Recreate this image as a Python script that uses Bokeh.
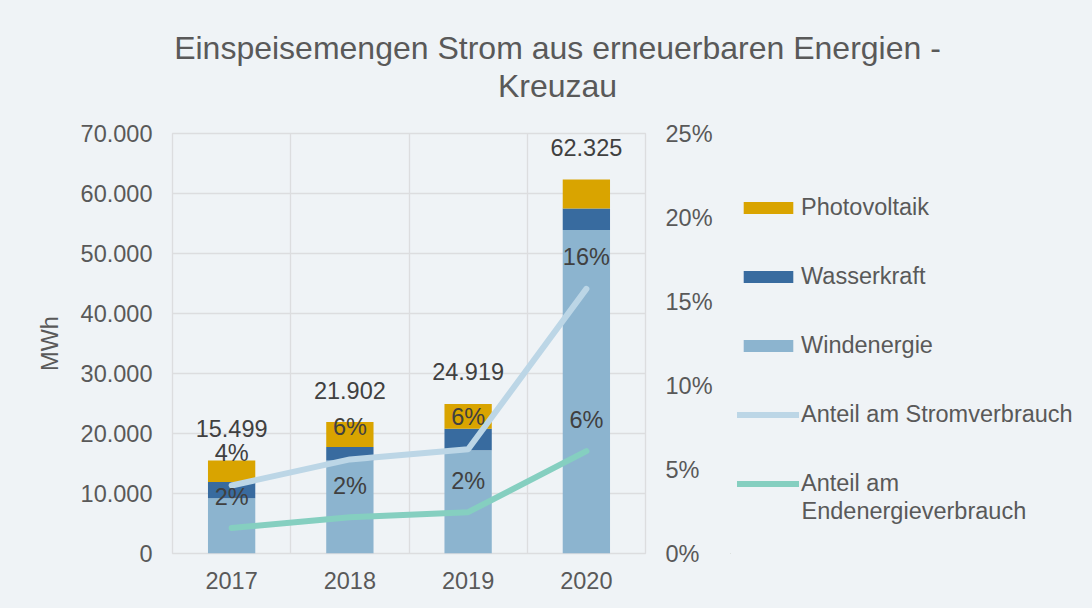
from bokeh.plotting import figure
from bokeh.layouts import column, row
from bokeh.models import (ColumnDataSource, Range1d, LinearAxis, FixedTicker, Legend,
                          LegendItem)
from bokeh.core.properties import value
from bokeh.embed import file_html
from bokeh.resources import INLINE

# ---------------- data ----------------
years = ["2017", "2018", "2019", "2020"]
windenergie = [9200, 15500, 17200, 53900]
wasserkraft = [2700, 2250, 3600, 3600]
photovoltaik = [3599, 4152, 4119, 4825]
totals = [15499, 21902, 24919, 62325]
total_labels = ["15.499", "21.902", "24.919", "62.325"]
anteil_strom = [0.0405, 0.056, 0.062, 0.1575]
anteil_end = [0.0152, 0.0216, 0.0246, 0.0609]
strom_labels = ["4%", "6%", "6%", "16%"]
end_labels = ["2%", "2%", "2%", "6%"]
left_ticks = [0, 10000, 20000, 30000, 40000, 50000, 60000, 70000]
left_tick_labels = ["0", "10.000", "20.000", "30.000", "40.000", "50.000", "60.000", "70.000"]
right_ticks = [0.0, 0.05, 0.10, 0.15, 0.20, 0.25]
right_tick_labels = ["0%", "5%", "10%", "15%", "20%", "25%"]
series_names = ["Photovoltaik", "Wasserkraft", "Windenergie",
                "Anteil am Stromverbrauch", "Anteil am", "Endenergieverbrauch"]

title_line1 = "Einspeisemengen Strom aus erneuerbaren Energien -"
title_line2 = "Kreuzau"

# ---------------- styles ----------------
BG = "#EFF3F6"
GRID = "#DCDDDF"
C_PV = "#D9A400"
C_WASSER = "#386B9F"
C_WIND = "#8CB4CF"
C_STROM = "#BCD6E6"
C_END = "#85CFC0"
TXT = "#595959"
LBL = "#404040"
FONT = "Liberation Sans"
FS = "23.5px"

# page geometry of the plot frame
TH = 110                 # height of title strip
FT, FB = 133, 553        # frame top / bottom (page px)
FL, FR = 172, 645        # frame left / right (page px)
MW = 730                 # width of the main chart figure
MH = 608 - TH
BT = FT - TH             # top border of the lower figures
BB = MH - BT - (FB - FT) # bottom border of the lower figures


def blank_fig(w, h, yr, **kw):
    fig = figure(width=w, height=h, output_backend="svg", toolbar_location=None,
                 x_range=Range1d(0, w), y_range=Range1d(0, yr),
                 x_axis_location=None, y_axis_location=None, **kw)
    fig.grid.visible = False
    fig.background_fill_color = BG
    fig.border_fill_color = BG
    fig.outline_line_color = None
    return fig


# ---------------- title figure ----------------
tf = blank_fig(1092, TH, TH, min_border=0)
tf.text(x=[557, 557], y=[TH - 47, TH - 85], text=[title_line1, title_line2],
        text_align="center", text_baseline="middle", text_font=value(FONT),
        text_font_size="32px", text_color=TXT)

# ---------------- main chart ----------------
xpos = [i + 0.5 for i in range(len(years))]
src = ColumnDataSource(dict(x=xpos, wind=windenergie, wasser=wasserkraft, pv=photovoltaik,
                            total=totals, total_label=total_labels,
                            strom=anteil_strom, end=anteil_end,
                            strom_label=strom_labels, end_label=end_labels))

p = figure(width=MW, height=MH, output_backend="svg", toolbar_location=None,
           x_range=Range1d(0, 4), y_range=Range1d(0, 70000),
           min_border_left=FL, min_border_right=MW - FR,
           min_border_top=BT, min_border_bottom=BB)
p.background_fill_color = BG
p.border_fill_color = BG
p.outline_line_color = GRID
p.outline_line_width = 1.3
p.extra_y_ranges = {"pct": Range1d(0, 0.25)}

p.xaxis.ticker = FixedTicker(ticks=xpos)
p.xaxis.major_label_overrides = {xv: y for xv, y in zip(xpos, years)}
p.yaxis.ticker = FixedTicker(ticks=left_ticks)
p.yaxis.major_label_overrides = {t: l for t, l in zip(left_ticks, left_tick_labels)}
p.yaxis.axis_label = "MWh"

ax_r = LinearAxis(y_range_name="pct", ticker=FixedTicker(ticks=right_ticks),
                  major_label_overrides={t: l for t, l in zip(right_ticks, right_tick_labels)})
p.add_layout(ax_r, "right")

for ax in [p.xaxis[0], p.yaxis[0], ax_r]:
    ax.axis_line_color = None
    ax.major_tick_line_color = None
    ax.minor_tick_line_color = None
    ax.major_tick_out = 0
    ax.major_tick_in = 0
    ax.major_label_text_font = FONT
    ax.major_label_text_font_size = FS
    ax.major_label_text_color = TXT
    ax.major_label_standoff = 20
p.xaxis.major_label_standoff = 18
p.yaxis.axis_label_text_font = FONT
p.yaxis.axis_label_text_font_size = FS
p.yaxis.axis_label_text_font_style = "normal"
p.yaxis.axis_label_text_color = TXT
p.yaxis.axis_label_standoff = 15

p.xgrid.ticker = FixedTicker(ticks=[0, 1, 2, 3, 4])
p.ygrid.ticker = FixedTicker(ticks=left_ticks)
for g in [p.xgrid[0], p.ygrid[0]]:
    g.grid_line_color = GRID
    g.grid_line_width = 1.3

p.vbar_stack(["wind", "wasser", "pv"], x="x", width=0.4, source=src,
             fill_color=[C_WIND, C_WASSER, C_PV], line_color=None)
p.line("x", "strom", source=src, y_range_name="pct", line_color=C_STROM,
       line_width=6, line_cap="round", line_join="round")
p.line("x", "end", source=src, y_range_name="pct", line_color=C_END,
       line_width=6, line_cap="round", line_join="round")

common = dict(text_align="center", text_baseline="middle", text_font_size=FS,
              text_color=LBL, text_font=value(FONT))
p.text("x", "total", text="total_label", source=src, y_offset=-32, **common)
p.text("x", "strom", text="strom_label", source=src, y_range_name="pct", y_offset=-32, **common)
p.text("x", "end", text="end_label", source=src, y_range_name="pct", y_offset=-31, **common)

# ---------------- legend figure (frame aligned with the chart frame) ----------------
LW = 1092 - MW
lf = blank_fig(LW, MH, FB - FT, min_border_left=0, min_border_right=0,
               min_border_top=BT, min_border_bottom=BB)
# legend-only renderers, placed far outside the visible range
offx = [-5000, -4999]
offy = [-5000, -5000]
r_pv = lf.vbar(x=offx[:1], bottom=offy[:1], top=[-4999], width=1, fill_color=C_PV, line_color=None)
r_wa = lf.vbar(x=offx[:1], bottom=offy[:1], top=[-4999], width=1, fill_color=C_WASSER, line_color=None)
r_wi = lf.vbar(x=offx[:1], bottom=offy[:1], top=[-4999], width=1, fill_color=C_WIND, line_color=None)
r_st = lf.line(x=offx, y=offy, line_color=C_STROM, line_width=6, line_cap="round")
r_en = lf.line(x=offx, y=offy, line_color=C_END, line_width=6, line_cap="round")
legend = Legend(items=[
    LegendItem(label=series_names[0], renderers=[r_pv]),
    LegendItem(label=series_names[1], renderers=[r_wa]),
    LegendItem(label=series_names[2], renderers=[r_wi]),
    LegendItem(label=series_names[3], renderers=[r_st]),
    LegendItem(label=series_names[4], renderers=[r_en]),
], location=(737 - MW, FB - 496.5), padding=0, margin=0, spacing=42,
    glyph_width=62, glyph_height=15, label_height=27, label_standoff=2,
    label_text_font=FONT, label_text_font_size=FS, label_text_color=TXT,
    border_line_alpha=0, background_fill_alpha=0)
lf.add_layout(legend, "center")
lf.text(x=[801 - MW], y=[FB - 510], text=[series_names[5]],
        text_align="left", text_baseline="middle", text_font=value(FONT),
        text_font_size=FS, text_color=TXT)

layout = column(tf, row(p, lf, spacing=0, styles={"background-color": BG}),
                spacing=0, styles={"background-color": BG})
open("out.html", "w").write(file_html(layout, INLINE))
